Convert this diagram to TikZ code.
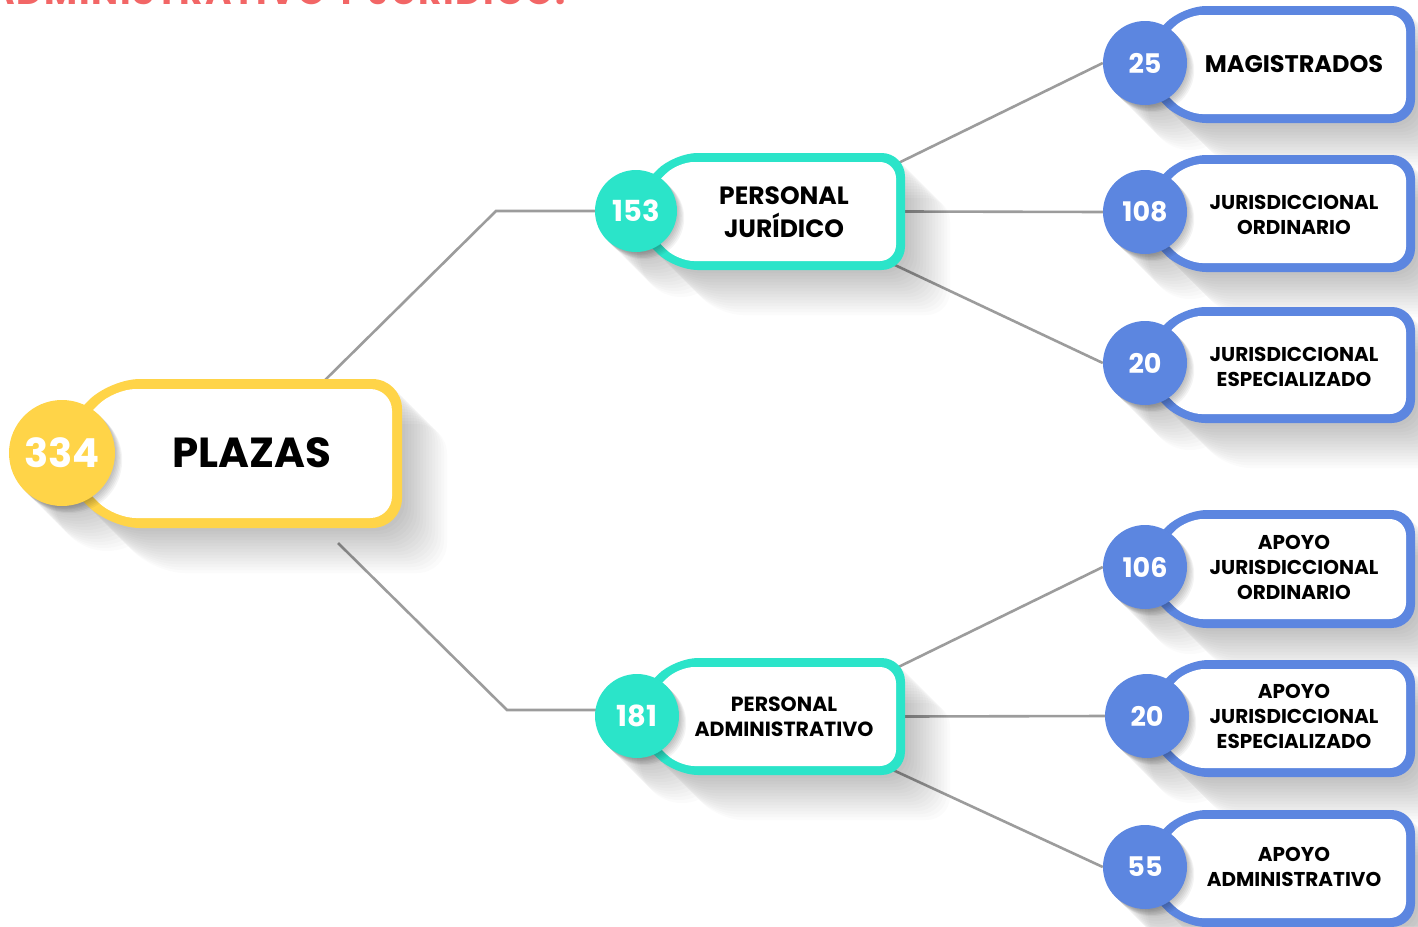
\documentclass[tikz,border=0pt]{standalone}
\usepackage{fontspec}
\setmainfont{Poppins}
\usetikzlibrary{calc}
\definecolor{cyel}{HTML}{FFD448}
\definecolor{cteal}{HTML}{2BE4C9}
\definecolor{cblue}{HTML}{5C86E0}
\definecolor{cred}{HTML}{F26666}
\definecolor{cline}{HTML}{9C9C9C}
\pgfdeclarelayer{bg}
\pgfsetlayers{bg,main}
\tikzset{
  conn/.style={draw=cline, line width=2.6pt},
  numtxt/.style={text=white, inner sep=0pt, font=\bfseries},
  lbl/.style={text=black, align=center, inner sep=0pt, font=\bfseries},
}
% #1 name, #2 cx, #3 cy, #4 r, #5 top, #6 bottom, #7 right, #8 colour, #9 border
\newcommand{\tagbox}[9]{%
\pgfmathsetmacro\tbtip{#2-0.5*#4}%
\pgfmathsetmacro\tbmid{(#5+#6)/2}%
\pgfmathsetmacro\tbh{(#6-#5)/2}%
\pgfmathsetmacro\tbtl{\tbtip+\tbh}%
\pgfmathsetmacro\tbR{0.2*(#6-#5)}%
\pgfmathsetmacro\tbitip{\tbtip+1.414*#9}%
\pgfmathsetmacro\tbitop{#5+#9}%
\pgfmathsetmacro\tbibot{#6-#9}%
\pgfmathsetmacro\tbiright{#7-#9}%
\pgfmathsetmacro\tbitl{\tbitip+\tbh-#9}%
\pgfmathsetmacro\tbiR{\tbR-0.8*#9}%
\pgfmathsetmacro\tbw{#7-\tbtip}%
\pgfmathsetmacro\tbhh{#6-#5}%
\pgfmathsetmacro\tbcx{(#7+\tbtip)/2}%
\foreach \s in {1,...,15}{%
  \fill[black,opacity=0.017,shift={(\s*3,\s*3)},rounded corners=\tbR pt]
    (\tbtip,\tbmid) -- (\tbtl,#5) -- (#7,#5) -- (#7,#6) -- (\tbtl,#6) -- cycle
    [sharp corners] (#2,#3) circle (#4);}
\fill[#8,rounded corners=\tbR pt]
  (\tbtip,\tbmid) -- (\tbtl,#5) -- (#7,#5) -- (#7,#6) -- (\tbtl,#6) -- cycle;
\fill[white,rounded corners=\tbiR pt]
  (\tbitip,\tbmid) -- (\tbitl,\tbitop) -- (\tbiright,\tbitop) -- (\tbiright,\tbibot) -- (\tbitl,\tbibot) -- cycle;
\foreach \s in {1,...,6}{%
  \fill[black,opacity=0.045,shift={(\s*1.2,\s*1.2)}] (#2,#3) circle (#4);}
\node[circle,fill=#8,minimum size={2*#4pt},inner sep=0pt] (#1c) at (#2,#3) {};
\node[inner sep=0pt,minimum width=\tbw pt,minimum height=\tbhh pt] (#1) at (\tbcx,\tbmid) {};
}
\begin{document}
\begin{tikzpicture}[x=1pt,y=-1pt]
\useasboundingbox (0,0) rectangle (1418,926);
\begin{pgfonlayer}{bg}
\fill[white] (0,0) rectangle (1418,926);
\end{pgfonlayer}
\clip (0,0) rectangle (1418,926);

% title (cut off at top)
\node[anchor=base east,text=cred,inner sep=0pt,font=\bfseries\fontsize{36}{36}\selectfont\addfontfeatures{LetterSpace=5}] (title) at (566,5) {ADMINISTRATIVO Y JURÍDICO.};

% boxes
\tagbox{plazas}{62}{453}{53}{379}{528}{402}{cyel}{10}
\node[numtxt,font=\bfseries\fontsize{40}{40}\selectfont] (plazasnum) at (plazasc) {334};
\node[lbl,font=\bfseries\fontsize{42}{42}\selectfont] (plazast) at (252,453) {PLAZAS};

\tagbox{jur}{636}{211}{41}{153}{270}{905}{cteal}{9}
\node[numtxt,font=\bfseries\fontsize{29}{29}\selectfont] (jurnum) at (jurc) {153};
\node[lbl,font=\bfseries\fontsize{25}{33}\selectfont] (jurt) at (784,212) {PERSONAL\\JURÍDICO};

\tagbox{adm}{637}{716}{42}{658}{775}{905}{cteal}{9}
\node[numtxt,font=\bfseries\fontsize{29}{29}\selectfont] (admnum) at (admc) {181};
\node[lbl,font=\bfseries\fontsize{20.5}{25}\selectfont] (admt) at (784,717) {PERSONAL\\ADMINISTRATIVO};

\tagbox{mag}{1145}{63}{42}{6}{123}{1415}{cblue}{9}
\node[numtxt,font=\bfseries\fontsize{27}{27}\selectfont] (magnum) at (magc) {25};
\node[lbl,font=\bfseries\fontsize{24}{24}\selectfont] (magt) at (1294,64) {MAGISTRADOS};

\tagbox{jo}{1145}{212}{42}{155}{272}{1415}{cblue}{9}
\node[numtxt,font=\bfseries\fontsize{27}{27}\selectfont] (jonum) at (joc) {108};
\node[lbl,font=\bfseries\fontsize{20}{25}\selectfont] (jot) at (1294,215) {JURISDICCIONAL\\ORDINARIO};

\tagbox{je}{1145}{363}{42}{307}{423}{1415}{cblue}{9}
\node[numtxt,font=\bfseries\fontsize{27}{27}\selectfont] (jenum) at (jec) {20};
\node[lbl,font=\bfseries\fontsize{20}{25}\selectfont] (jet) at (1294,367) {JURISDICCIONAL\\ESPECIALIZADO};

\tagbox{ajo}{1145}{567}{42}{510}{628}{1415}{cblue}{9}
\node[numtxt,font=\bfseries\fontsize{27}{27}\selectfont] (ajonum) at (ajoc) {106};
\node[lbl,font=\bfseries\fontsize{20}{25}\selectfont] (ajot) at (1294,567) {APOYO\\JURISDICCIONAL\\ORDINARIO};

\tagbox{aje}{1147}{716}{42}{660}{777}{1415}{cblue}{9}
\node[numtxt,font=\bfseries\fontsize{27}{27}\selectfont] (ajenum) at (ajec) {20};
\node[lbl,font=\bfseries\fontsize{20}{25}\selectfont] (ajet) at (1294,716) {APOYO\\JURISDICCIONAL\\ESPECIALIZADO};

\tagbox{aa}{1145}{867}{42}{810}{927}{1415}{cblue}{9}
\node[numtxt,font=\bfseries\fontsize{27}{27}\selectfont] (aanum) at (aac) {55};
\node[lbl,font=\bfseries\fontsize{20}{25}\selectfont] (aat) at (1294,867) {APOYO\\ADMINISTRATIVO};

% connectors
\coordinate (pa) at (317,388);
\coordinate (j1) at (496,211);
\coordinate (pb) at (338,543);
\coordinate (j2) at (507,710);
\coordinate (r1) at (880,172);
\coordinate (r3) at (880,258);
\coordinate (r4) at (880,676);
\coordinate (r6) at (880,764);
\begin{pgfonlayer}{bg}
\draw[conn] (pa) -- (j1) -- (j1 -| jurc.center);
\draw[conn] (pb) -- (j2) -- (j2 -| admc.center);
\draw[conn] (r1) -- (magc.west);
\draw[conn] (jur.east) -- (joc.west);
\draw[conn] (r3) -- (jec.west);
\draw[conn] (r4) -- (ajoc.west);
\draw[conn] (adm.east) -- (ajec.west);
\draw[conn] (r6) -- (aac.west);
\end{pgfonlayer}
\end{tikzpicture}
\end{document}
